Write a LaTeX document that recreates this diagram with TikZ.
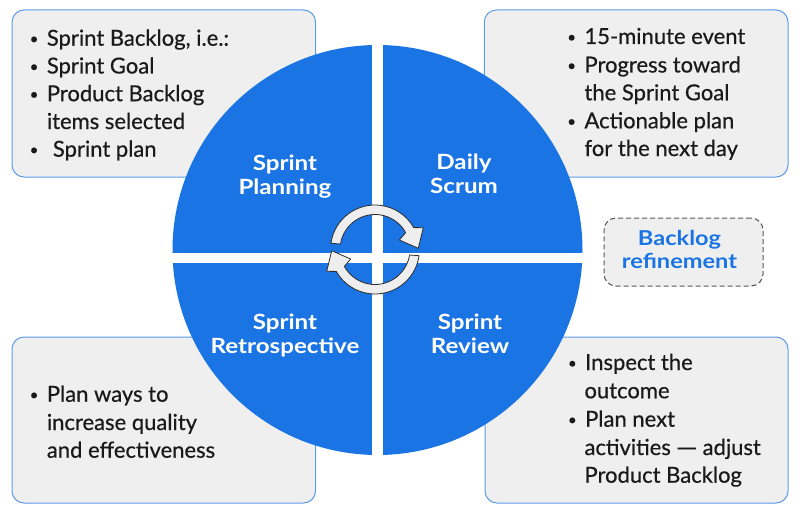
\documentclass[tikz,border=0pt]{standalone}
\usepackage{fontspec}
\setmainfont{Lato}
\newfontfamily\boxfont{Lato}[FakeBold=0.5]
\newfontfamily\labelfont{Lato}[FakeStretch=1.15]
\usetikzlibrary{calc}
\definecolor{sblue}{HTML}{1B74E4}
\definecolor{boxfill}{HTML}{EFEFEF}
\definecolor{boxline}{HTML}{5D9BEB}
\definecolor{arrfill}{HTML}{EEEEEE}
\definecolor{arrline}{HTML}{2B2B2B}
\definecolor{dashline}{HTML}{555555}
\definecolor{txtcol}{HTML}{1A1A1A}
\newcommand{\bul}{\makebox[17.7pt][l]{\hspace{0.5pt}\raisebox{1.8pt}{\fontsize{15}{15}\selectfont\textbullet}}}
\begin{document}
\begin{tikzpicture}[x=1pt,y=1pt,
 infobox/.style={draw=boxline, line width=1pt, fill=boxfill, rounded corners=12pt, inner sep=0pt},
 refbox/.style={draw=dashline, line width=1pt, dash pattern=on 5pt off 3pt, fill=boxfill, rounded corners=12pt, inner sep=0pt},
 txt/.style={font=\boxfont\fontsize{22}{28}\selectfont, text=txtcol, inner sep=0pt, anchor=base west},
 qlabel/.style={font=\labelfont\bfseries\fontsize{21}{24}\selectfont, text=white, align=center, inner sep=0pt, anchor=base},
 reflabel/.style={font=\labelfont\bfseries\fontsize{20.5}{23}\selectfont, text=sblue, align=center, inner sep=0pt, anchor=base},
 cyc/.style={fill=arrfill, draw=arrline, line width=0.8pt, line join=round}
]
\useasboundingbox (0,0) rectangle (800,-519);
\fill[white] (0,0) rectangle (800,-519);

% info boxes
\node[infobox, minimum width=303.5pt, minimum height=167pt] (btl) at (163.75,-93.5) {};
\node[infobox, minimum width=303.7pt, minimum height=167pt] (btr) at (636.15,-93.5) {};
\node[infobox, minimum width=303.5pt, minimum height=166pt] (bbl) at (163.75,-420) {};
\node[infobox, minimum width=303pt, minimum height=166pt] (bbr) at (636.5,-420) {};
\node[refbox, minimum width=159pt, minimum height=68pt] (bref) at (683.5,-252) {};

% circle and quadrant gaps
\fill[sblue] (377.5,-250) circle (205);
\fill[white] (372.3,-40) rectangle (382.7,-460);
\fill[white] (165,-252.7) rectangle (590,-263.3);

% quadrant labels (base = last line)
\node[qlabel] (plan) at (285,-194) {Sprint\\Planning};
\node[qlabel] (daily) at (464,-193.3) {Daily\\Scrum};
\node[qlabel] (retro) at (285,-353.3) {Sprint\\Retrospective};
\node[qlabel] (review) at (470,-353.3) {Sprint\\Review};

% backlog refinement
\node[reflabel] (reftxt) at (679.5,-268.3) {Backlog\\refinement};

% cycle arrows
\coordinate (c1) at (375,-249.5);
\draw[cyc] ($(c1)+(172:44.5)$) arc[start angle=172,end angle=29.5,radius=44.5]
  -- ($(c1)+(24.3:53)$) -- ($(c1)+(1.6:43.3)$) -- ($(c1)+(21.4:26.1)$)
  -- ($(c1)+(28.8:35)$) arc[start angle=28.8,end angle=171,radius=35] -- cycle;
\begin{scope}[rotate around={180:(377,-258.3)}]
\draw[cyc] ($(c1)+(172:44.5)$) arc[start angle=172,end angle=29.5,radius=44.5]
  -- ($(c1)+(24.3:53)$) -- ($(c1)+(1.6:43.3)$) -- ($(c1)+(21.4:26.1)$)
  -- ($(c1)+(28.8:35)$) arc[start angle=28.8,end angle=171,radius=35] -- cycle;
\end{scope}

% top-left text
\node[txt] (tl1) at (29,-45.7) {\bul Sprint Backlog, i.e.:};
\node[txt] (tl2) at (29,-73.5) {\bul Sprint Goal};
\node[txt] (tl3) at (29,-101.2) {\bul Product Backlog};
\node[txt] (tl4) at (46.7,-129) {items selected};
\node[txt] (tl5) at (29,-156.7) {\bul\hspace{6pt}Sprint plan};

% top-right text
\node[txt] (tr1) at (566.6,-44) {\bul 15-minute event};
\node[txt] (tr2) at (566.6,-72.5) {\bul Progress toward};
\node[txt] (tr3) at (584.3,-100.3) {the Sprint Goal};
\node[txt] (tr4) at (566.6,-128.3) {\bul Actionable plan};
\node[txt] (tr5) at (584.3,-156) {for the next day};

% bottom-left text
\node[txt] (bl1) at (29,-401.7) {\bul Plan ways to};
\node[txt] (bl2) at (46.7,-430) {increase quality};
\node[txt] (bl3) at (46.7,-457.7) {and effectiveness};

% bottom-right text
\node[txt] (br1) at (567.3,-370) {\bul Inspect the};
\node[txt] (br2) at (584.3,-398.3) {outcome};
\node[txt] (br3) at (567.3,-426.7) {\bul Plan next};
\node[txt] (br4) at (584.3,-455) {activities\hspace{5pt}\scalebox{1.25}[1]{—}\hspace{5pt}adjust};
\node[txt] (br5) at (584.3,-482.7) {Product Backlog};
\end{tikzpicture}
\end{document}
